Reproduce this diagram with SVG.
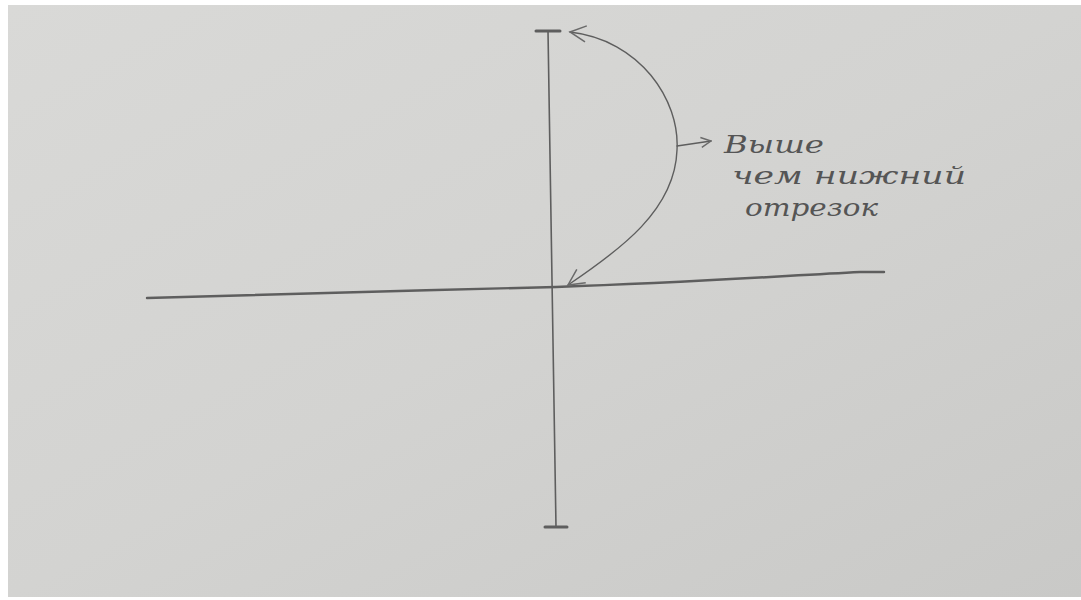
<svg xmlns="http://www.w3.org/2000/svg" width="1081" height="600" viewBox="0 0 1081 600">
<defs>
<linearGradient id="paper" x1="0" y1="0" x2="1" y2="1">
<stop offset="0" stop-color="#d9d9d7"/>
<stop offset="0.5" stop-color="#d3d3d1"/>
<stop offset="1" stop-color="#c9c9c7"/>
</linearGradient>
<marker id="open" viewBox="0 0 12 12" refX="11" refY="6" markerWidth="12" markerHeight="12" markerUnits="userSpaceOnUse" orient="auto">
<path d="M1,1 L11,6 L1,11" fill="none" stroke="#6a6a6a" stroke-width="1.4"/>
</marker>
<marker id="big" viewBox="0 0 20 20" refX="18" refY="10" markerWidth="20" markerHeight="20" markerUnits="userSpaceOnUse" orient="auto-start-reverse">
<path d="M2,2 L18,10 L2,18" fill="none" stroke="#6a6a6a" stroke-width="1.5"/>
</marker>
</defs>
<style>
.pen{fill:none;stroke:#5e5e5e;stroke-linecap:round;stroke-linejoin:round}
.hand{font-family:"DejaVu Serif","Liberation Serif",serif;font-style:italic;fill:#555555;font-size:24px}
</style>
<rect width="1081" height="600" fill="#ffffff"/>
<rect x="8" y="5" width="1073" height="592" fill="url(#paper)"/>
<g id="axes">
<path class="pen" d="M548,31 L552,280 L556,527" stroke-width="1.6"/>
<path class="pen" d="M536,31 L560,31" stroke-width="3"/>
<path class="pen" d="M545,527 L567,527" stroke-width="3"/>
<path class="pen" d="M147,298 C300,294 420,290 556,287 C700,282 780,276 860,272 L884,272" stroke-width="2.4"/>
</g>
<g id="connectors">
<path class="pen" d="M570,32 C640,40 680,100 677,150 C675,210 620,250 568,285" stroke-width="1.4" marker-start="url(#big)" marker-end="url(#big)"/>
<path class="pen" d="M677,146 L711,141" stroke-width="1.4" marker-end="url(#open)"/>
</g>
<g id="label">
<text class="hand" x="724" y="153" textLength="100" lengthAdjust="spacingAndGlyphs">Выше</text>
<text class="hand" x="732" y="184" textLength="234" lengthAdjust="spacingAndGlyphs">чем нижний</text>
<text class="hand" x="745" y="216" textLength="133" lengthAdjust="spacingAndGlyphs">отрезок</text>
</g>
</svg>
